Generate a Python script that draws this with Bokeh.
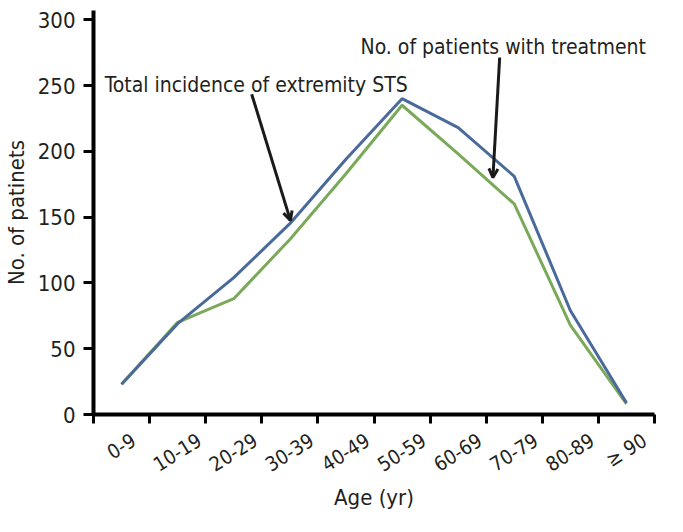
import math
from bokeh.plotting import figure
from bokeh.models import FixedTicker, Range1d, Arrow, OpenHead, Label
from bokeh.embed import file_html
from bokeh.resources import INLINE

# ---- data ----
age_groups = ["0-9", "10-19", "20-29", "30-39", "40-49", "50-59", "60-69", "70-79", "80-89", "\u2265 90"]
total_incidence = [23, 69, 104, 145, 194, 240, 218, 181, 79, 9]
with_treatment = [23, 70, 88, 133, 183, 235, 198, 160, 68, 8]
y_ticks = [0, 50, 100, 150, 200, 250, 300]

FONT = "DejaVu Sans Condensed"
TXT = "#231f20"
BLUE = "#4a6a9c"
GREEN = "#7aa95a"

n = len(age_groups)
x_centers = [i + 0.5 for i in range(n)]
boundaries = list(range(n + 1))

# rotated x labels are right-aligned by Bokeh; shift each anchor so the
# label appears centred on its category (approximate glyph widths, em units)
ANGLE = math.radians(32)
XLAB_PX = 20
PX_PER_UNIT = 56.8
CHAR_W = {"-": 0.325, " ": 0.286, "\u2265": 0.754}


def label_shift(s):
    w = sum(CHAR_W.get(ch, 0.572) for ch in s) * XLAB_PX
    return (w * math.cos(ANGLE) / 2) / PX_PER_UNIT


label_ticks = [round(c + label_shift(s), 4) for c, s in zip(x_centers, age_groups)]

p = figure(width=667, height=516,
           x_range=Range1d(0, n), y_range=Range1d(0, 307),
           output_backend="svg", toolbar_location=None,
           min_border_left=86, min_border_right=13,
           min_border_top=10, min_border_bottom=102)
p.outline_line_color = None
p.grid.visible = False

p.line(x_centers, with_treatment, line_color=GREEN, line_width=3)
p.line(x_centers, total_incidence, line_color=BLUE, line_width=3)

xa = p.xaxis[0]
xa.ticker = FixedTicker(ticks=label_ticks, minor_ticks=boundaries)
xa.major_label_overrides = {t: lab for t, lab in zip(label_ticks, age_groups)}
xa.major_tick_out = 0
xa.major_tick_in = 0
xa.minor_tick_out = 9
xa.minor_tick_in = 0
xa.minor_tick_line_width = 3
xa.minor_tick_line_color = "black"
xa.axis_line_width = 4
xa.major_label_orientation = ANGLE
xa.major_label_standoff = 15
xa.major_label_text_font = FONT
xa.major_label_text_font_size = f"{XLAB_PX}px"
xa.major_label_text_color = TXT
xa.axis_label = "Age (yr)"
xa.axis_label_text_font = FONT
xa.axis_label_text_font_size = "22px"
xa.axis_label_text_font_style = "normal"
xa.axis_label_text_color = TXT
xa.axis_label_standoff = -5

ya = p.yaxis[0]
ya.ticker = FixedTicker(ticks=y_ticks, minor_ticks=[])
ya.major_tick_out = 10
ya.major_tick_in = 0
ya.major_tick_line_width = 3
ya.axis_line_width = 4
ya.major_label_standoff = 8
ya.major_label_text_font = FONT
ya.major_label_text_font_size = "22px"
ya.major_label_text_color = TXT
ya.axis_label = "No. of patinets"
ya.axis_label_text_font = FONT
ya.axis_label_text_font_size = "22px"
ya.axis_label_text_font_style = "normal"
ya.axis_label_text_color = TXT
ya.axis_label_standoff = 6

p.add_layout(Label(x=0.2, y=250.3, text="Total incidence of extremity STS",
                   text_font=FONT, text_font_size="21px", text_color=TXT,
                   text_baseline="alphabetic"))
p.add_layout(Label(x=4.76, y=278.9, text="No. of patients with treatment",
                   text_font=FONT, text_font_size="21px", text_color=TXT,
                   text_baseline="alphabetic"))
p.add_layout(Arrow(end=OpenHead(size=9, line_width=3, line_color="#1a1a1a"),
                   x_start=2.82, y_start=243.4, x_end=3.51, y_end=147.5,
                   line_width=3, line_color="#1a1a1a"))
p.add_layout(Arrow(end=OpenHead(size=9, line_width=3, line_color="#1a1a1a"),
                   x_start=7.24, y_start=271.3, x_end=7.12, y_end=180,
                   line_width=3, line_color="#1a1a1a"))

open("out.html", "w").write(file_html(p, INLINE))
